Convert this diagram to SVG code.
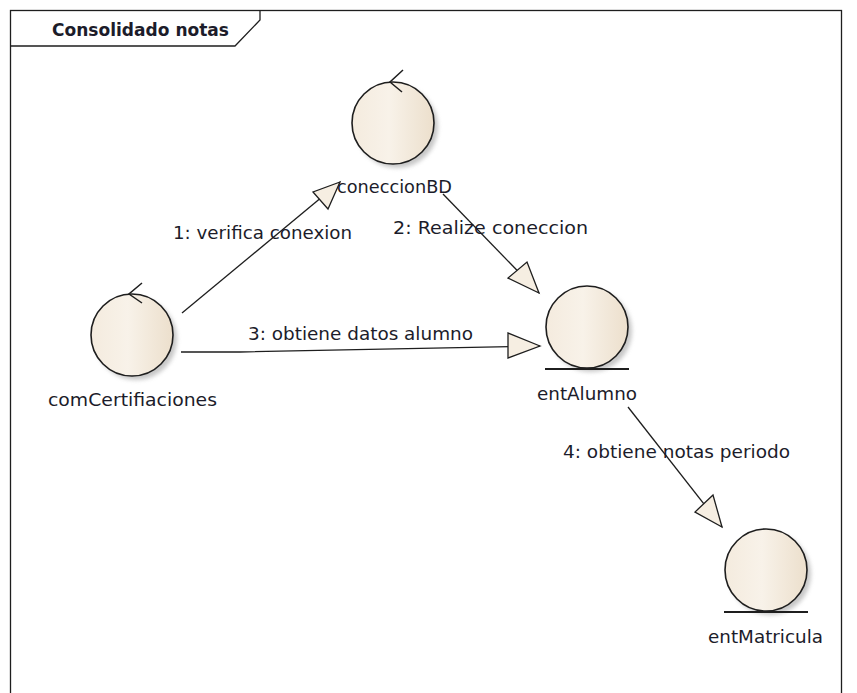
<svg xmlns="http://www.w3.org/2000/svg" width="857" height="693" viewBox="0 0 857 693">
  <style>
    .lbl { font-family: "DejaVu Sans", "Liberation Sans", sans-serif; font-size: 17px; fill: #1c1c2a; }
    .ttl { font-family: "DejaVu Sans", "Liberation Sans", sans-serif; font-size: 17px; font-weight: bold; fill: #1c1c2a; }
    .body { fill: url(#beige); stroke: #1e1e1e; stroke-width: 1.6; }
    .shadow { fill: #9a9a9a; opacity: 0.55; filter: url(#soft); }
    .mark { fill: none; stroke: #1e1e1e; stroke-width: 1.5; }
    .base { stroke: #1e1e1e; stroke-width: 2; }
    .conn { fill: none; stroke: #1e1e1e; stroke-width: 1.3; }
    .head { fill: #f6eee2; stroke: #1e1e1e; stroke-width: 1.3; stroke-linejoin: miter; }
  </style>
  <defs>
    <linearGradient id="beige" x1="0" y1="0" x2="1" y2="0">
      <stop offset="0" stop-color="#f4ebde"/>
      <stop offset="0.45" stop-color="#f8f2e9"/>
      <stop offset="1" stop-color="#ecdfcc"/>
    </linearGradient>
    <filter id="soft" x="-20%" y="-20%" width="140%" height="140%">
      <feGaussianBlur stdDeviation="2"/>
    </filter>
  </defs>

  <rect width="857" height="693" fill="#ffffff"/>

  <!-- frame with name tab -->
  <g id="frame">
    <rect x="10.5" y="10.5" width="831" height="700" fill="none" stroke="#1e1e1e" stroke-width="1.3"/>
    <path d="M10.5,46 H235 L260,20 V10.5" fill="none" stroke="#1e1e1e" stroke-width="1.3"/>
    <text class="ttl" x="52" y="36" textLength="177" lengthAdjust="spacingAndGlyphs">Consolidado notas</text>
  </g>

  <!-- message links -->
  <g id="connectors">
    <line class="conn" x1="182" y1="313" x2="340" y2="182"/>
    <polygon class="head" points="340,182 313,192 328,209"/>
    <text class="lbl" x="173" y="239" textLength="179" lengthAdjust="spacingAndGlyphs">1: verifica conexion</text>

    <line class="conn" x1="443" y1="194" x2="539" y2="293"/>
    <polygon class="head" points="539,293 508,278 527,262"/>
    <text class="lbl" x="393" y="234" textLength="195" lengthAdjust="spacingAndGlyphs">2: Realize coneccion</text>

    <path class="conn" d="M181,352 H240 L540,346"/>
    <polygon class="head" points="540,346 508,333 508,358"/>
    <text class="lbl" x="248" y="340" textLength="225" lengthAdjust="spacingAndGlyphs">3: obtiene datos alumno</text>

    <line class="conn" x1="628" y1="407" x2="722" y2="527"/>
    <polygon class="head" points="722,527 695,512 713,495"/>
    <text class="lbl" x="563" y="458" textLength="227" lengthAdjust="spacingAndGlyphs">4: obtiene notas periodo</text>
  </g>

  <!-- control: coneccionBD -->
  <g id="coneccionBD">
    <circle class="shadow" cx="397" cy="127" r="41"/>
    <circle class="body" cx="393" cy="123" r="41"/>
    <path class="mark" d="M403,70 L390,82 L402,92"/>
    <text class="lbl" x="337" y="193" textLength="115" lengthAdjust="spacingAndGlyphs">coneccionBD</text>
  </g>

  <!-- control: comCertifiaciones -->
  <g id="comCertifiaciones">
    <circle class="shadow" cx="136" cy="339" r="41"/>
    <circle class="body" cx="132" cy="335" r="41"/>
    <path class="mark" d="M142,283 L129,294 L142,303"/>
    <text class="lbl" x="48" y="406" textLength="169" lengthAdjust="spacingAndGlyphs">comCertifiaciones</text>
  </g>

  <!-- entity: entAlumno -->
  <g id="entAlumno">
    <circle class="shadow" cx="591" cy="331" r="41"/>
    <circle class="body" cx="587" cy="327" r="41"/>
    <line class="base" x1="545" y1="369" x2="629" y2="369"/>
    <text class="lbl" x="537" y="400" textLength="100" lengthAdjust="spacingAndGlyphs">entAlumno</text>
  </g>

  <!-- entity: entMatricula -->
  <g id="entMatricula">
    <circle class="shadow" cx="770" cy="574" r="41"/>
    <circle class="body" cx="766" cy="570" r="41"/>
    <line class="base" x1="724" y1="612" x2="808" y2="612"/>
    <text class="lbl" x="708" y="643" textLength="115" lengthAdjust="spacingAndGlyphs">entMatricula</text>
  </g>
</svg>
